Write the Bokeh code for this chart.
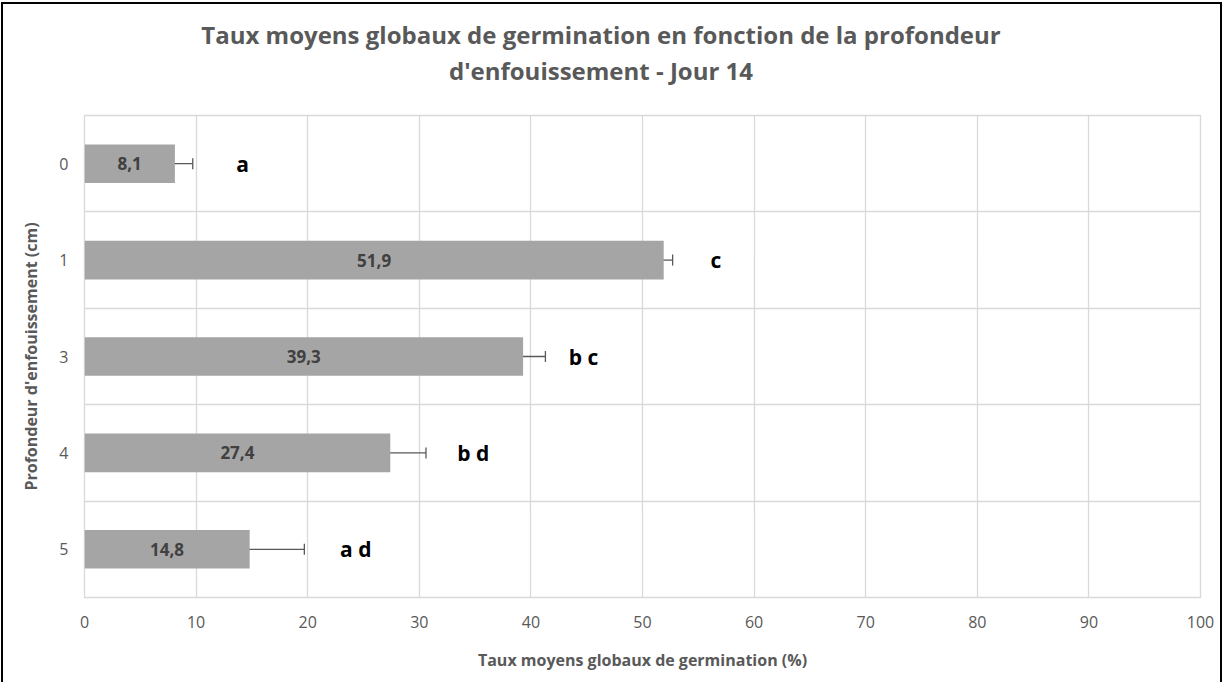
from bokeh.plotting import figure
from bokeh.models import Range1d, FixedTicker, Whisker, TeeHead, ColumnDataSource, Div
from bokeh.layouts import column
from bokeh.core.properties import value
from bokeh.embed import file_html
from bokeh.resources import INLINE

# ---- data ----
depths = ["0", "1", "3", "4", "5"]
rates = [8.1, 51.9, 39.3, 27.4, 14.8]
errors = [1.6, 0.8, 2.0, 3.2, 4.9]
letters = ["a", "c", "b c", "b d", "a d"]
letter_pos = [13.6, 56.1, 43.4, 33.4, 22.9]
x_ticks = [0, 10, 20, 30, 40, 50, 60, 70, 80, 90, 100]
title_lines = ["Taux moyens globaux de germination en fonction de la profondeur",
               "d'enfouissement - Jour 14"]

FONT = "Open Sans"
GREY = "#595959"

ypos = [i + 0.5 for i in range(len(depths))]
src = ColumnDataSource(dict(
    y=ypos, rate=rates, half=[r / 2 for r in rates],
    lab=[f"{r:.1f}".replace(".", ",") for r in rates],
    lo=[r - e for r, e in zip(rates, errors)],
    hi=[r + e for r, e in zip(rates, errors)],
    let=letters, letx=letter_pos,
))

p = figure(width=1217, height=578, output_backend="svg", toolbar_location=None,
           x_range=Range1d(0, 100), y_range=Range1d(len(depths), 0),
           min_border_left=81, min_border_right=20, min_border_top=11, min_border_bottom=85)
p.outline_line_color = "#D9D9D9"
p.outline_line_width = 1.3
p.background_fill_color = "white"

p.hbar(y="y", right="rate", left=0, height=0.4, source=src, color="#A5A5A5", line_color=None)
w = Whisker(source=src, base="y", lower="lo", upper="hi", dimension="width",
            line_color=GREY, line_width=1.3,
            lower_head=TeeHead(size=11, line_color=GREY, line_width=1.3),
            upper_head=TeeHead(size=11, line_color=GREY, line_width=1.3))
p.add_layout(w)

p.text(x="half", y="y", text="lab", source=src, text_align="center", text_baseline="middle",
       text_font=value(FONT), text_font_size="17px", text_font_style="bold", text_color="#404040")
p.text(x="letx", y="y", text="let", source=src, text_align="left", text_baseline="middle",
       text_font=value(FONT), text_font_size="21px", text_font_style="bold", text_color="#000000")

# grids
p.xgrid.ticker = FixedTicker(ticks=x_ticks)
p.xgrid.grid_line_color = "#D9D9D9"
p.xgrid.grid_line_width = 1.3
p.ygrid.ticker = FixedTicker(ticks=list(range(len(depths) + 1)))
p.ygrid.grid_line_color = "#D9D9D9"
p.ygrid.grid_line_width = 1.3

# axes
p.xaxis.ticker = FixedTicker(ticks=x_ticks)
p.yaxis.ticker = FixedTicker(ticks=ypos)
p.yaxis.major_label_overrides = {y: d for y, d in zip(ypos, depths)}
for ax in (p.xaxis[0], p.yaxis[0]):
    ax.axis_line_color = None
    ax.major_tick_line_color = None
    ax.minor_tick_line_color = None
    ax.major_label_text_font = FONT
    ax.major_label_text_font_size = "16px"
    ax.major_label_text_color = GREY
    ax.axis_label_text_font = FONT
    ax.axis_label_text_font_size = "16px"
    ax.axis_label_text_font_style = "bold"
    ax.axis_label_text_color = GREY
p.xaxis.axis_label = "Taux moyens globaux de germination (%)"
p.yaxis.axis_label = "Profondeur d'enfouissement (cm)"
p.xaxis.major_label_standoff = 12
p.xaxis.axis_label_standoff = 18
p.yaxis.major_label_standoff = 10
p.yaxis.axis_label_standoff = 14
p.title = None

title = Div(
    text=("<div style=\"display:block; width:1196px; height:100px; box-sizing:border-box; "
          "margin:0; text-align:center; font-family:'Open Sans'; font-weight:bold; "
          "font-size:24px; color:#595959; line-height:36px; padding-top:13px;\">"
          + "<br>".join(title_lines) + "</div>"),
    width=1217, height=100, margin=0)

layout = column(title, p, spacing=0,
                styles={"border-top": "2px solid #000", "border-left": "2px solid #000",
                        "border-right": "2px solid #000", "margin-left": "1px",
                        "margin-top": "2px", "background-color": "white"})

open("out.html", "w").write(file_html(layout, INLINE))
